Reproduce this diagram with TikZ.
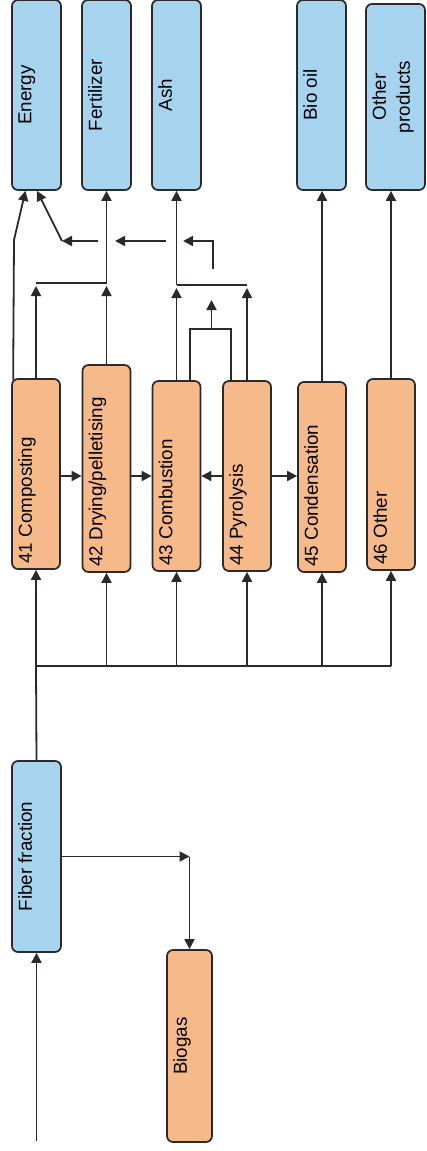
\documentclass[tikz,border=0pt]{standalone}
\usepackage{fontspec}
\setmainfont{Liberation Sans}
\usetikzlibrary{arrows.meta,calc}
\definecolor{bblue}{RGB}{166,212,238}
\definecolor{borange}{RGB}{246,185,138}
\definecolor{edgec}{RGB}{45,41,42}
\begin{document}
\begin{tikzpicture}[x=1pt,y=-1pt,
  box/.style={draw=edgec, line width=1.7pt, rounded corners=6pt, inner sep=0pt},
  bluebox/.style={box, fill=bblue},
  orbox/.style={box, fill=borange},
  txt/.style={rotate=90, font=\fontsize{18.8}{24}\selectfont, inner sep=0pt, align=center, text=black},
  arr/.style={-{Triangle[length=10pt,width=10pt]}, line width=1.8pt, draw=edgec},
  ln/.style={line width=1.8pt, draw=edgec}]
\useasboundingbox (0,0) rectangle (427,1151);

% top product boxes
\node[bluebox, minimum width=49pt, minimum height=190pt] (energy) at (36.5,95) {};
\node[bluebox, minimum width=49pt, minimum height=190pt] (fert) at (106.5,95) {};
\node[bluebox, minimum width=49pt, minimum height=190pt] (ash) at (176.5,95) {};
\node[bluebox, minimum width=49pt, minimum height=190pt] (biooil) at (321.5,95) {};
\node[bluebox, minimum width=59pt, minimum height=186pt] (otherp) at (395.5,97) {};
\node[txt, anchor=north] (tenergy) at ($(energy.west)+(7,0)$) {Energy};
\node[txt, anchor=north] (tfert) at ($(fert.west)+(7,0)$) {Fertilizer};
\node[txt, anchor=north] (tash) at ($(ash.west)+(7,0)$) {Ash};
\node[txt, anchor=north] (tbio) at ($(biooil.west)+(7,0)$) {Bio oil};
\node[txt, anchor=north] (tother) at ($(otherp.west)+(7,0)$) {Other\\products};

% process boxes
\node[orbox, minimum width=48pt, minimum height=190pt] (comp) at (36,474) {};
\node[orbox, minimum width=48pt, minimum height=207pt] (dry) at (106.5,468.5) {};
\node[orbox, minimum width=48pt, minimum height=190pt] (comb) at (176.5,476) {};
\node[orbox, minimum width=48pt, minimum height=190pt] (pyro) at (247,476) {};
\node[orbox, minimum width=48pt, minimum height=190pt] (cond) at (322,477) {};
\node[orbox, minimum width=48pt, minimum height=191pt] (oth) at (391,474.5) {};
\node[txt, anchor=north west] (t41) at ($(comp.south west)+(7,-6)$) {41 Composting};
\node[txt, anchor=north west] (t42) at ($(dry.south west)+(7,-6)$) {42 Drying/pelletising};
\node[txt, anchor=north west] (t43) at ($(comb.south west)+(7,-6)$) {43 Combustion};
\node[txt, anchor=north west] (t44) at ($(pyro.south west)+(7,-6)$) {44 Pyrolysis};
\node[txt, anchor=north west] (t45) at ($(cond.south west)+(7,-6)$) {45 Condensation};
\node[txt, anchor=north west] (t46) at ($(oth.south west)+(7,-6)$) {46 Other};

% input boxes
\node[bluebox, minimum width=49pt, minimum height=191pt] (fiber) at (36.5,856.5) {};
\node[orbox, minimum width=45pt, minimum height=192pt] (biogas) at (189.5,1046) {};
\node[txt, anchor=north] (tfiber) at ($(fiber.west)+(7,0)$) {Fiber fraction};
\node[txt, anchor=north] (tbiogas) at ($(biogas.west)+(7,0)$) {Biogas};

% input and biogas
\coordinate (src) at (36.5,1141);
\draw[arr] (src) -- (fiber.south);
\coordinate (fb) at (biogas.north |- fiber.east);
\draw[arr] (fiber.east) -- (fb);
\draw[arr] (fb) -- (biogas.north);

% distribution bus
\coordinate (bus) at (36,666);
\draw[ln] (fiber.north) -- (bus) -- (oth.south |- bus);
\foreach \n in {comp,dry,comb,pyro,cond,oth}
  \draw[arr] (\n.south |- bus) -- (\n.south);

% side arrows between processes
\coordinate (mid) at (0,476);
\draw[arr] (comp.east |- mid) -- (dry.west |- mid);
\draw[arr] (dry.east |- mid) -- (comb.west |- mid);
\draw[arr] (pyro.west |- mid) -- (comb.east |- mid);
\draw[arr] (pyro.east |- mid) -- (cond.west |- mid);

% composting / drying to energy and fertilizer
\coordinate (cbend) at (14,240);
\draw[arr] ([xshift=2pt,yshift=-2pt]comp.north west) -- (cbend) -- ([xshift=-11pt]energy.south);
\coordinate (fj) at (0,283);
\coordinate (fjt) at (0,286);
\draw[arr] (comp.north) -- (comp.north |- fjt);
\draw[arr] (dry.north) -- (dry.north |- fjt);
\draw[ln] (comp.north |- fj) -- (dry.north |- fj);
\draw[arr] (dry.north |- fj) -- (fert.south);

% combustion / pyrolysis to ash
\coordinate (aj) at (0,285);
\coordinate (ajt) at (0,288);
\draw[arr] (comb.north) -- (comb.north |- ajt);
\draw[arr] (pyro.north) -- (pyro.north |- ajt);
\draw[ln] (comb.north |- aj) -- (pyro.north |- aj);
\draw[arr] (comb.north |- aj) -- (ash.south);

% small loop between combustion and pyrolysis
\coordinate (lp) at (211.5,329);
\coordinate (lpt) at (211.5,300);
\draw[ln] ([xshift=13.5pt]comb.north) |- (lp) -| ([xshift=-16pt]pyro.north);
\draw[arr] (lp) -- (lpt);

% free arrows towards the left
\coordinate (r1) at (213,269);
\coordinate (r1t) at (183,241);
\draw[arr] (r1) |- (r1t);
\coordinate (r2) at (166,241);
\coordinate (r2t) at (115,241);
\draw[arr] (r2) -- (r2t);
\coordinate (r3) at (98,241);
\coordinate (r3t) at (62,241);
\draw[arr] (r3) -- (r3t);
\draw[arr] (r3t) -- ([xshift=0.5pt]energy.south);

% outputs
\draw[arr] (cond.north) -- (cond.north |- biooil.south);
\draw[arr] (oth.north) -- (oth.north |- otherp.south);
\end{tikzpicture}
\end{document}
